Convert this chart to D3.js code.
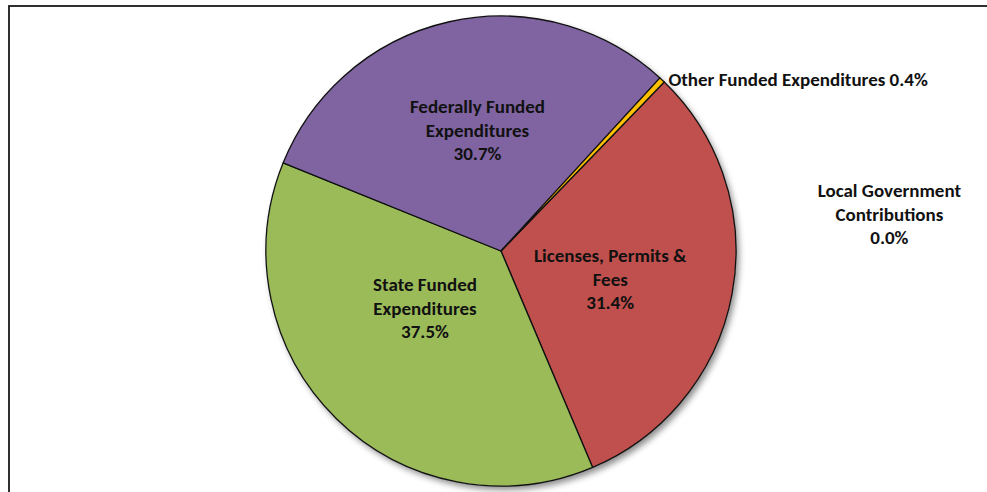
<!DOCTYPE html>
<html>
<head>
<meta charset="utf-8">
<script src="https://cdn.jsdelivr.net/npm/d3@7"></script>
<style>
  html, body { margin: 0; padding: 0; background: #fff; }
  svg { display: block; }
  text { font-family: Carlito, Calibri, Lato, "Open Sans", sans-serif; font-weight: bold; fill: #111; }
</style>
</head>
<body>
<svg id="chart" width="987" height="492"></svg>
<script>
// Funding sources, listed clockwise from the first slice
const categories = [
  "Licenses, Permits & Fees",
  "State Funded Expenditures",
  "Federally Funded Expenditures",
  "Other Funded Expenditures",
  "Local Government Contributions"
];
const shares = [31.4, 37.5, 30.7, 0.4, 0.0];
const sliceColors = ["#C0504D", "#9BBB59", "#8064A2", "#FFC000", "#4BACC6"];

// Label text split into lines
const labelLines = [
  ["Licenses, Permits &", "Fees", "31.4%"],
  ["State Funded", "Expenditures", "37.5%"],
  ["Federally Funded", "Expenditures", "30.7%"],
  ["Other Funded Expenditures 0.4%"],
  ["Local Government", "Contributions", "0.0%"]
];

const width = 987, height = 492;
const cx = 501, cy = 251, radius = 235;
const firstSliceAngle = 44; // degrees, clockwise from 12 o'clock

const svg = d3.select("#chart");

// Chart frame
svg.append("rect")
  .attr("x", 9).attr("y", 6)
  .attr("width", 1000).attr("height", 500)
  .attr("fill", "#fff")
  .attr("stroke", "#1a1a1a")
  .attr("stroke-width", 1.8);

const defs = svg.append("defs");
const shadow = defs.append("filter").attr("id", "pieShadow")
  .attr("x", "-10%").attr("y", "-10%").attr("width", "125%").attr("height", "125%");
shadow.append("feDropShadow")
  .attr("dx", 3).attr("dy", 4).attr("stdDeviation", 3)
  .attr("flood-color", "#000").attr("flood-opacity", 0.45);

const data = categories.map((c, i) => ({ category: c, value: shares[i], color: sliceColors[i], lines: labelLines[i] }));

const start = firstSliceAngle * Math.PI / 180;
const pie = d3.pie()
  .value(d => d.value)
  .sort(null)
  .startAngle(start)
  .endAngle(start + 2 * Math.PI);

const arcs = pie(data);
const arc = d3.arc().innerRadius(0).outerRadius(radius);

const g = svg.append("g").attr("transform", `translate(${cx},${cy})`);

// Shadow under the whole disc
g.append("circle").attr("r", radius).attr("fill", "#fff").attr("filter", "url(#pieShadow)");

g.selectAll("path.slice")
  .data(arcs.filter(a => a.data.value > 0))
  .join("path")
  .attr("class", "slice")
  .attr("d", arc)
  .attr("fill", d => d.data.color)
  .attr("stroke", "#111")
  .attr("stroke-width", 1.3)
  .attr("stroke-linejoin", "round");

// Label placement: polar position (angle from 12 o'clock, distance as fraction of radius)
const labelLayout = [
  { angle: 104.5, dist: 0.48, anchor: "middle" },
  { angle: 233.0, dist: 0.405, anchor: "middle" },
  { angle: 349.0, dist: 0.525, anchor: "middle" },
  { angle: 44.3, dist: 1.02, anchor: "start" },
  { angle: 84.6, dist: 1.66, anchor: "middle" }
];

const fontSize = 19, lineH = 23.5;
arcs.forEach((a, i) => {
  const L = labelLayout[i];
  const t = L.angle * Math.PI / 180;
  const lx = Math.sin(t) * L.dist * radius;
  const ly = -Math.cos(t) * L.dist * radius;
  const n = a.data.lines.length;
  const text = g.append("text")
    .attr("text-anchor", L.anchor)
    .attr("font-size", fontSize);
  a.data.lines.forEach((ln, k) => {
    text.append("tspan")
      .attr("x", lx)
      .attr("y", ly + (k - (n - 1) / 2) * lineH + fontSize * 0.35)
      .text(ln);
  });
});
</script>
</body>
</html>
